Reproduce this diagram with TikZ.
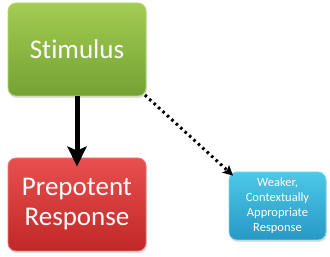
\documentclass[tikz,border=0pt]{standalone}
\usepackage{fontspec}
\setmainfont{Carlito}[Ligatures={NoCommon}]
\usetikzlibrary{arrows.meta,shadows}
\definecolor{gtop}{HTML}{A2CC52}
\definecolor{gbot}{HTML}{74A233}
\definecolor{gline}{HTML}{B6D978}
\definecolor{rtop}{HTML}{E85050}
\definecolor{rbot}{HTML}{C02828}
\definecolor{rline}{HTML}{EE7777}
\definecolor{btop}{HTML}{4CC8E8}
\definecolor{bbot}{HTML}{2898C4}
\definecolor{bline}{HTML}{7AD6F0}
\tikzset{
  box/.style={rectangle, rounded corners=8pt, line width=0.8pt, align=center,
    text=white, inner sep=0pt,
    drop shadow={opacity=0.25, shadow xshift=1pt, shadow yshift=-2pt}},
  greenbox/.style={box, draw=gline, top color=gtop, bottom color=gbot,
    minimum width=138pt, minimum height=93pt, font=\fontsize{27}{30}\selectfont},
  redbox/.style={box, draw=rline, top color=rtop, bottom color=rbot,
    minimum width=138pt, minimum height=93pt, font=\fontsize{27}{30}\selectfont},
  bluebox/.style={box, draw=bline, top color=btop, bottom color=bbot,
    minimum width=97pt, minimum height=68pt, font=\fontsize{12.5}{15}\selectfont},
  strongarrow/.style={line width=5pt, -{Stealth[width=19pt,length=20pt,inset=4pt]}},
  weakarrow/.style={line width=3pt, dash pattern=on 2.5pt off 3.5pt,
    -{Stealth[width=10pt,length=10pt,inset=2pt]}},
}
\begin{document}
\begin{tikzpicture}[x=1pt,y=1pt]
\useasboundingbox (0,0) rectangle (330,257);
\node[greenbox] (stim) at (77,207.5) {Stimulus};
\node[redbox] (prep) at (77,52.5) {Prepotent\\Response};
\node[bluebox] (weak) at (277.5,51) {Weaker,\\Contextually\\Appropriate\\Response};
\draw[strongarrow, shorten >=-9pt] (stim.south) -- (prep.north);
\draw[weakarrow, shorten <=-2pt, shorten >=-6pt] (stim.south east) -- (weak.north west);
\end{tikzpicture}
\end{document}
